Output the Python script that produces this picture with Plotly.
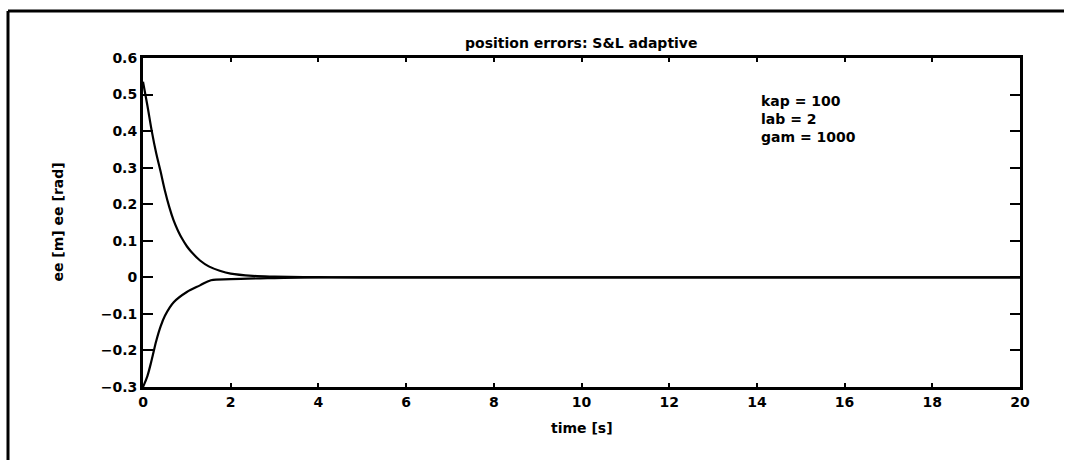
import plotly.graph_objects as go

# time samples [s] and position errors of the two controlled coordinates
t_upper = [0.0, 0.1, 0.2, 0.3, 0.4, 0.5, 0.6, 0.7, 0.8, 0.9, 1.0, 1.1, 1.3, 1.5, 1.75, 2.0, 2.5, 3.0, 4.0, 5.0, 20.0]
e_upper = [0.535, 0.47, 0.40, 0.34, 0.29, 0.237, 0.192, 0.155, 0.127, 0.104, 0.085, 0.07, 0.046, 0.03, 0.018, 0.010, 0.004, 0.002, 0.0005, 0.0, 0.0]

t_lower = [0.0, 0.1, 0.2, 0.3, 0.4, 0.5, 0.7, 1.0, 1.3, 1.55, 2.0, 3.0, 4.0, 20.0]
e_lower = [-0.30, -0.27, -0.225, -0.175, -0.135, -0.105, -0.068, -0.040, -0.022, -0.008, -0.005, -0.002, 0.0, 0.0]

params = ["kap = 100", "lab = 2", "gam = 1000"]

FONT = "DejaVu Sans"
W, H = 1066, 460
ML, MR, MT, MB = 143, 46, 58, 73
PW, PH = W - ML - MR, H - MT - MB


def px(x):
    return (x - ML) / PW


def py(y):
    return (H - MB - y) / PH


fig = go.Figure()
for t, e in ((t_upper, e_upper), (t_lower, e_lower)):
    fig.add_trace(go.Scatter(x=t, y=e, mode="lines", line=dict(color="black", width=2.2),
                             line_shape="spline", showlegend=False, hoverinfo="skip"))

axis_common = dict(showline=True, linecolor="black", linewidth=3, mirror="ticks",
                   ticks="inside", tickcolor="black", tickwidth=2, showgrid=False,
                   zeroline=False,
                   tickfont=dict(family=FONT, size=14, color="black", weight="bold"))

fig.update_xaxes(range=[0, 20], dtick=2, tick0=0, ticklen=4, **axis_common)
fig.update_yaxes(range=[-0.3, 0.6], dtick=0.1, tick0=0, ticklen=10, **axis_common)

txt = dict(family=FONT, size=14, color="black", weight="bold")
fig.add_annotation(text="position errors: S&L adaptive", xref="paper", yref="paper",
                   x=0.5, y=py(43), showarrow=False, font=txt, xanchor="center", yanchor="middle")
fig.add_annotation(text="time [s]", xref="paper", yref="paper",
                   x=0.5, y=py(428), showarrow=False, font=txt, xanchor="center", yanchor="middle")
fig.add_annotation(text="ee [m] ee [rad]", xref="paper", yref="paper", textangle=-90,
                   x=px(57), y=0.5, showarrow=False, font=txt, xanchor="center", yanchor="middle")
fig.add_annotation(text="<br>".join(params), xref="x", yref="y", x=14.05, y=0.51,
                   showarrow=False, font=txt, align="left", xanchor="left", yanchor="top")

# outer page frame (top and left edges)
frame = dict(color="black", width=3)
fig.add_shape(type="line", xref="paper", yref="paper", x0=px(8), x1=px(1064), y0=py(11), y1=py(11), line=frame)
fig.add_shape(type="line", xref="paper", yref="paper", x0=px(8), x1=px(8), y0=py(11), y1=py(462), line=frame)

fig.update_layout(width=W, height=H, margin=dict(l=ML, r=MR, t=MT, b=MB),
                  paper_bgcolor="white", plot_bgcolor="white")

fig.write_html("out.html")
